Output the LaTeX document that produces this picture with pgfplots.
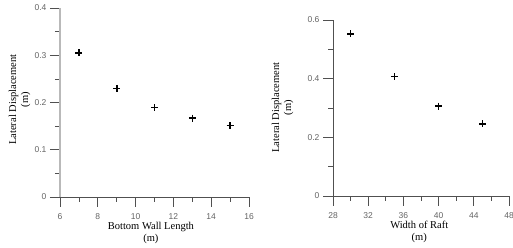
\documentclass[border=0pt]{standalone}
\usepackage{pgfplots}
\pgfplotsset{compat=1.18}
\usepackage{fontspec}
\setmainfont{Liberation Serif}
\newfontfamily\tickfont{Liberation Sans}
\definecolor{axgray}{RGB}{80,80,80}
\definecolor{lightax}{RGB}{185,185,185}
\definecolor{tickgray}{RGB}{100,100,100}
\pgfplotsset{
  mystyle/.style={
    scale only axis,
    axis lines=left,
    axis line style={-, axgray, line width=0.7pt},
    tick align=outside,
    major tick length=10pt,
    minor tick length=5pt,
    every tick/.style={axgray, line width=0.7pt},
    minor tick num=1,
    tick label style={font=\tickfont\fontsize{8.5}{9}\selectfont, text=tickgray},
    xticklabel style={yshift=-3pt},
    /pgf/number format/assume math mode=true,
    yticklabel style={/pgf/number format/fixed, /pgf/number format/precision=1},
    label style={font=\fontsize{10.5}{12}\selectfont, align=center, inner sep=0pt},
    clip=false,
  }
}
\begin{document}
\begin{tikzpicture}
\useasboundingbox (0pt,0pt) rectangle (513pt,248pt);
\begin{axis}[mystyle,
  at={(60pt,51pt)}, anchor=south west,
  width=189pt, height=189pt,
  xmin=6, xmax=16, ymin=0, ymax=0.4,
  xtick={6,8,...,16}, ytick={0,0.1,0.2,0.3,0.4},
  y axis line style={lightax, line width=1.6pt},
  xlabel={Bottom Wall Length\\(m)},
  ylabel={Lateral Displacement\\(m)},
  xlabel style={at={(axis description cs:0.481,0)}, anchor=north, yshift=-25pt},
  ylabel style={at={(axis description cs:-0.272,0.515)}, anchor=north},
]
\addplot[only marks, mark=+, mark size=3.5pt, black, line width=1.6pt] coordinates {
(7,0.305) (9,0.230) (11,0.189) (13,0.167) (15,0.151)};
\end{axis}
\begin{axis}[mystyle,
  at={(333pt,52pt)}, anchor=south west,
  width=176pt, height=176pt,
  xmin=28, xmax=48, ymin=0, ymax=0.6,
  xtick={28,32,...,48}, ytick={0,0.2,0.4,0.6},
  xlabel={Width of Raft\\(m)},
  ylabel={Lateral Displacement\\(m)},
  xlabel style={at={(axis description cs:0.49,0)}, anchor=north, yshift=-25pt},
  ylabel style={at={(axis description cs:-0.348,0.503)}, anchor=north},
]
\addplot[only marks, mark=+, mark size=3.5pt, black, line width=1.6pt] coordinates {
(30,0.553) (35,0.407) (40,0.306) (45,0.246)};
\end{axis}
\end{tikzpicture}
\end{document}
